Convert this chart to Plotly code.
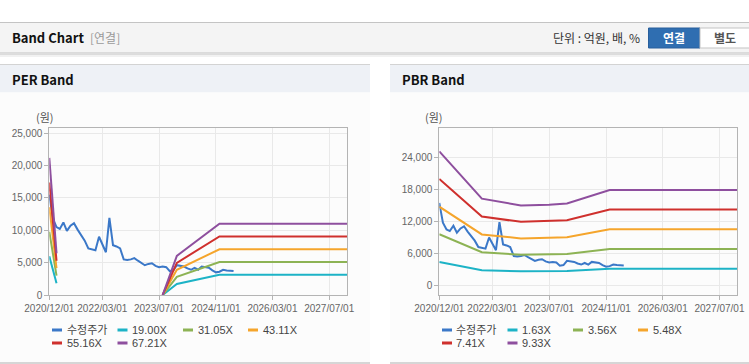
import plotly.graph_objects as go

W, H = 749, 364

# ---------------- data ----------------
price_dates = [
    "2020-12-01", "2021-01-01", "2021-02-01", "2021-03-01", "2021-04-01", "2021-05-01",
    "2021-06-01", "2021-07-01", "2021-08-01", "2021-09-01", "2021-10-01", "2021-11-01",
    "2021-12-01", "2022-01-01", "2022-02-01", "2022-03-01", "2022-04-01", "2022-05-01",
    "2022-06-01", "2022-07-01", "2022-08-01", "2022-09-01", "2022-10-01", "2022-11-01",
    "2022-12-01", "2023-01-01", "2023-02-01", "2023-03-01", "2023-04-01", "2023-05-01",
    "2023-06-01", "2023-07-01", "2023-08-01", "2023-09-01", "2023-10-01", "2023-11-01",
    "2023-12-01", "2024-01-01", "2024-02-01", "2024-03-01", "2024-04-01", "2024-05-01",
    "2024-06-01", "2024-07-01", "2024-08-01", "2024-09-01", "2024-10-01", "2024-11-01",
    "2024-12-01", "2025-01-01", "2025-02-01", "2025-03-01", "2025-04-01",
]
price = [
    15500, 11800, 10500, 10200, 11200, 9900,
    10700, 11100, 10100, 9300, 8400, 7200,
    7100, 6900, 9000, 7900, 6600, 11900,
    7700, 7500, 7200, 5500, 5400, 5500,
    5700, 5300, 4900, 4600, 4800, 4900,
    4500, 4300, 4400, 4300, 3700, 3800,
    4600, 4500, 4400, 4100, 3900, 4200,
    3900, 4400, 4300, 4200, 3800, 3500,
    3600, 3900, 3800, 3700, 3700,
]

per_dates = ["2020-12-01", "2021-01-01", "2021-02-01", "2021-03-01",
             "2023-08-01", "2023-12-01", "2024-12-01", "2027-12-01"]
per_19_00 = [5985, 4085, 1824, None, 0, 1710, 3116, 3116]
per_31_05 = [9781, 6676, 2981, None, 0, 2795, 5092, 5092]
per_43_11 = [13580, 9269, 4139, None, 0, 3880, 7070, 7070]
per_55_16 = [17375, 11859, 5295, None, 0, 4964, 9046, 9046]
per_67_21 = [21171, 14450, 6452, None, 0, 6049, 11022, 11022]

pbr_dates = ["2020-12-01", "2021-12-01", "2022-11-01", "2023-07-01",
             "2023-12-01", "2024-12-01", "2027-12-01"]
pbr_1_63 = [4401, 2848, 2626, 2647, 2691, 3134, 3134]
pbr_3_56 = [9612, 6219, 5735, 5781, 5878, 6846, 6846]
pbr_5_48 = [14796, 9574, 8828, 8900, 9047, 10538, 10538]
pbr_7_41 = [20007, 12945, 11938, 12034, 12234, 14249, 14249]
pbr_9_33 = [25191, 16300, 15031, 15152, 15404, 17942, 17942]

per_names = ["수정주가", "19.00X", "31.05X", "43.11X", "55.16X", "67.21X"]
pbr_names = ["수정주가", "1.63X", "3.56X", "5.48X", "7.41X", "9.33X"]
colors = ["#3b78c8", "#1db3c6", "#8db354", "#f5a52c", "#cf302d", "#8e4f9e"]

x_tickvals = ["2020-12-01", "2022-03-01", "2023-07-01", "2024-11-01", "2026-03-01", "2027-07-01"]
x_ticktext = ["2020/12/01", "2022/03/01", "2023/07/01", "2024/11/01", "2026/03/01", "2027/07/01"]
per_yticks = [0, 5000, 10000, 15000, 20000, 25000]
pbr_yticks = [0, 6000, 12000, 18000, 24000]

FONT = "Liberation Sans, Arial, Noto Sans CJK KR, sans-serif"
KFONT = "Noto Sans CJK KR, Liberation Sans, sans-serif"


def px(x):
    return x / W


def py(y):
    return 1 - y / H


fig = go.Figure()

per_series = [per_19_00, per_31_05, per_43_11, per_55_16, per_67_21]
pbr_series = [pbr_1_63, pbr_3_56, pbr_5_48, pbr_7_41, pbr_9_33]

fig.add_trace(go.Scatter(x=price_dates, y=price, mode="lines", name=per_names[0],
                         line=dict(color=colors[0], width=2), xaxis="x", yaxis="y",
                         showlegend=False))
for i, s in enumerate(per_series):
    fig.add_trace(go.Scatter(x=per_dates, y=s, mode="lines", name=per_names[i + 1],
                             line=dict(color=colors[i + 1], width=2), xaxis="x", yaxis="y",
                             showlegend=False))

fig.add_trace(go.Scatter(x=price_dates, y=price, mode="lines", name=pbr_names[0],
                         line=dict(color=colors[0], width=2), xaxis="x2", yaxis="y2",
                         showlegend=False))
for i, s in enumerate(pbr_series):
    fig.add_trace(go.Scatter(x=pbr_dates, y=s, mode="lines", name=pbr_names[i + 1],
                             line=dict(color=colors[i + 1], width=2), xaxis="x2", yaxis="y2",
                             showlegend=False))

axis_common = dict(
    showline=True, linecolor="#b4b4b4", linewidth=1, mirror=True,
    showgrid=True, gridcolor="#e9e9e9", gridwidth=1,
    ticks="outside", ticklen=4, tickcolor="#b4b4b4",
    tickfont=dict(family=FONT, size=10, color="#666666"),
    zeroline=False, fixedrange=True, tickangle=0, automargin=False,
)

y_dom = [py(295), py(128.3)]

fig.update_layout(
    width=W, height=H,
    margin=dict(l=0, r=0, t=0, b=0),
    paper_bgcolor="white",
    plot_bgcolor="rgba(0,0,0,0)",
    showlegend=False,
    xaxis=dict(domain=[px(49.3), px(347)], type="date",
               range=["2020-12-01", "2027-12-01"],
               tickvals=x_tickvals, ticktext=x_ticktext, anchor="y", **axis_common),
    yaxis=dict(domain=y_dom, range=[0, 25750], tickvals=per_yticks,
               tickformat=",", anchor="x", **axis_common),
    xaxis2=dict(domain=[px(439.3), px(737.3)], type="date",
                range=["2020-12-01", "2027-12-01"],
                tickvals=x_tickvals, ticktext=x_ticktext, anchor="y2", **axis_common),
    yaxis2=dict(domain=y_dom, range=[-1830, 29550], tickvals=pbr_yticks,
                tickformat=",", anchor="x2", **axis_common),
)

shapes = []


def rect(x0, y0, x1, y1, fill, line=None, layer="below"):
    shapes.append(dict(type="rect", xref="paper", yref="paper",
                       x0=px(x0), x1=px(x1), y0=py(y1), y1=py(y0),
                       fillcolor=fill,
                       line=dict(width=1 if line else 0, color=line or fill),
                       layer=layer))


# page header bar
rect(0, 22, 749, 23, "#c4c4c4")
rect(0, 23, 749, 52.5, "#f4f4f4")
rect(0, 52.5, 749, 53.5, "#bdbdbd")
rect(0, 53.5, 749, 55, "#dcdcdc")
rect(0, 55, 749, 57, "#f1f1f1")

# panels
for x0, x1 in [(0, 370), (390, 749)]:
    rect(x0, 64, x1, 65, "#d3d3d3")
    rect(x0, 65, x1, 92.5, "#eef1f6")
    rect(x0, 92.5, x1, 362, "#fcfcfc")
    rect(x0, 362, x1, 364, "#d6d6d6")

# buttons
rect(648.5, 28, 700, 48, "#2f6eb1", line="#285f9c")
rect(700, 28, 752, 48, "#ffffff", line="#c3c3c3")

annotations = []


def text(x, y, s, size=11, color="#333333", family=FONT, anchor="left", bold=False):
    if bold:
        s = "<b>" + s + "</b>"
    annotations.append(dict(xref="paper", yref="paper", x=px(x), y=py(y), text=s,
                            showarrow=False, xanchor=anchor, yanchor="middle",
                            font=dict(family=family, size=size, color=color)))


text(10, 38, "Band Chart", size=13, color="#111111", family=KFONT, bold=True)
text(88, 38, "[연결]", size=12, color="#9a9a9a", family=KFONT)
text(642, 38, "단위 : 억원, 배, %", size=12, color="#333333", family=KFONT, anchor="right")
text(674, 38, "연결", size=12, color="#ffffff", family=KFONT, anchor="center", bold=True)
text(725, 38, "별도", size=12, color="#555555", family=KFONT, anchor="center", bold=True)
text(10, 79.5, "PER Band", size=13, color="#111111", family=KFONT, bold=True)
text(400, 79.5, "PBR Band", size=13, color="#111111", family=KFONT, bold=True)
text(34, 117, "(원)", size=11, color="#555555", family=KFONT)
text(423, 117, "(원)", size=11, color="#555555", family=KFONT)

# legends (marker segment + label)
cols = [52, 117.5, 183, 248]
rows = [330, 343]
for offset, names in [(0, per_names), (390, pbr_names)]:
    for i, nm in enumerate(names):
        r, c = divmod(i, 4)
        mx = offset + cols[c]
        my = rows[r]
        shapes.append(dict(type="line", xref="paper", yref="paper",
                           x0=px(mx), x1=px(mx + 10), y0=py(my), y1=py(my),
                           line=dict(color=colors[i], width=3), layer="above"))
        text(mx + 12.5, my, nm, size=11, color="#444444", family=FONT)

fig.update_layout(shapes=shapes, annotations=annotations)

fig.write_html(
    "out.html",
    config={"displayModeBar": False},
    post_script="document.body.style.margin='0';document.body.style.padding='0';"
                "document.body.style.overflow='hidden';",
)
